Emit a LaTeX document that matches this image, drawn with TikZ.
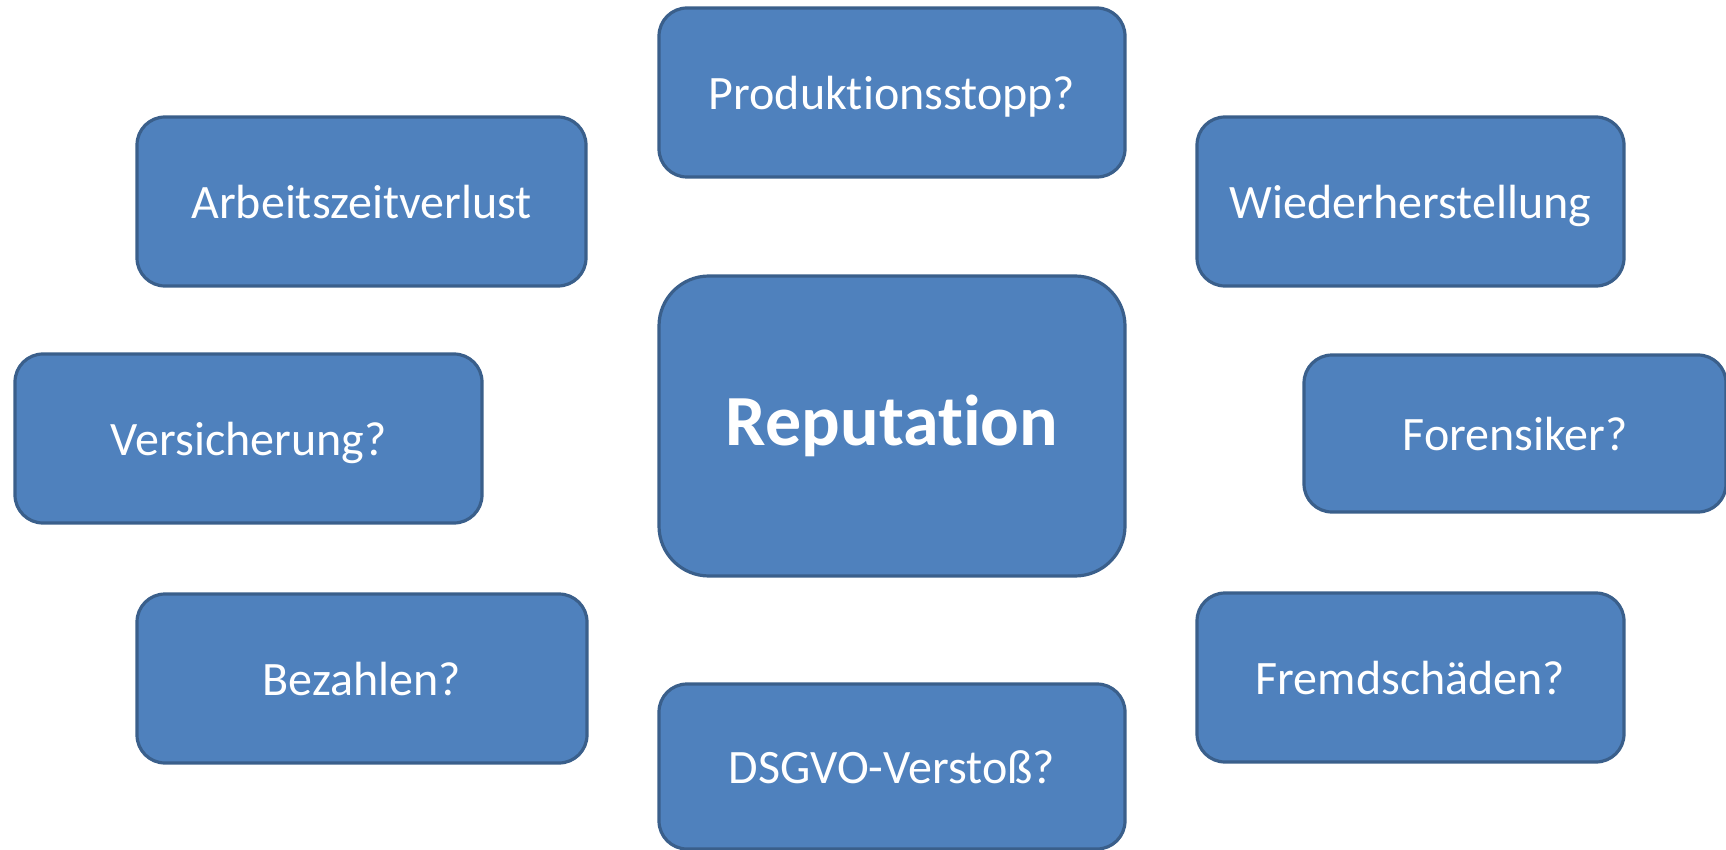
\documentclass[tikz,border=0pt]{standalone}
\usepackage{fontspec}
\setmainfont{Carlito}[Ligatures=NoCommon]
\definecolor{boxfill}{HTML}{4F81BD}
\definecolor{boxdraw}{HTML}{3A5F8B}

\tikzstyle{block} = [draw=boxdraw, fill=boxfill, rectangle, line width=3.2pt,
    rounded corners=28pt, inner sep=0pt, text=white,
    minimum height=169pt, minimum width=449pt,
    text height=33.5pt, text depth=0pt,
    font=\fontsize{48}{58}\selectfont]
\tikzstyle{core} = [block, rounded corners=50pt,
    minimum height=300pt, minimum width=466pt, text height=39pt,
    font=\fontsize{72}{84}\selectfont\bfseries]

\begin{document}
\begin{tikzpicture}[x=1pt, y=-1pt]
          \useasboundingbox (0,0) rectangle (1726,850);
          \node (rep) [core] at (892,426) {Reputation};
          \node (prod) [block, minimum width=466pt] at (892,92.5) {Produktionsstopp?};
          \node (arbeit) [block] at (361.5,201.5) {Arbeitszeitverlust};
          \node (wieder) [block, minimum width=427pt] at (1410.5,201.5) {Wiederherstellung};
          \node (versich) [block, minimum width=467pt] at (248.5,438.5) {Versicherung?};
          \node (forens) [block, minimum width=422pt, minimum height=157pt] at (1515,433.5) {Forensiker?};
          \node (bezahl) [block, minimum width=450pt] at (362,678.5) {Bezahlen?};
          \node (fremd) [block, minimum width=427pt] at (1410.5,677.5) {Fremdschäden?};
          \node (dsgvo) [block, minimum width=466pt, minimum height=165pt] at (892,766.5) {DSGVO-Verstoß?};
        \end{tikzpicture}
\end{document}
